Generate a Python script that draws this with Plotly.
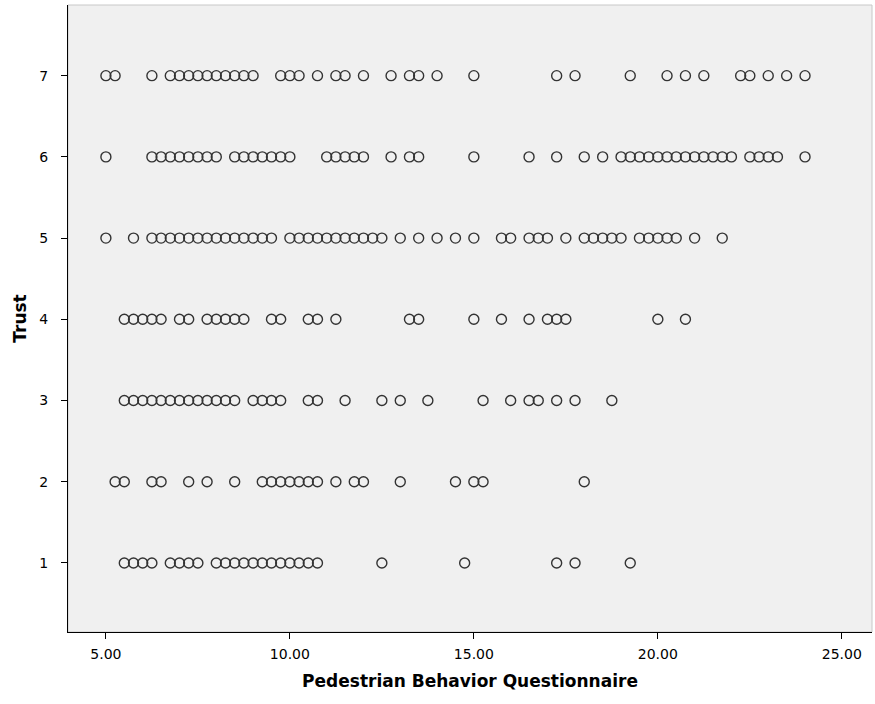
import plotly.graph_objects as go

# Pedestrian Behavior Questionnaire scores for each Trust level
pbq_trust7 = [5.0, 5.25, 6.25, 6.75, 7.0, 7.25, 7.5, 7.75, 8.0, 8.25, 8.5, 8.75, 9.0,
              9.75, 10.0, 10.25, 10.75, 11.25, 11.5, 12.0, 12.75, 13.25, 13.5, 14.0, 15.0,
              17.25, 17.75, 19.25, 20.25, 20.75, 21.25, 22.25, 22.5, 23.0, 23.5, 24.0]
pbq_trust6 = [5.0, 6.25, 6.5, 6.75, 7.0, 7.25, 7.5, 7.75, 8.0, 8.5, 8.75, 9.0, 9.25, 9.5,
              9.75, 10.0, 11.0, 11.25, 11.5, 11.75, 12.0, 12.75, 13.25, 13.5, 15.0,
              16.5, 17.25, 18.0, 18.5, 19.0, 19.25, 19.5, 19.75, 20.0, 20.25, 20.5, 20.75,
              21.0, 21.25, 21.5, 21.75, 22.0, 22.5, 22.75, 23.0, 23.25, 24.0]
pbq_trust5 = [5.0, 5.75, 6.25, 6.5, 6.75, 7.0, 7.25, 7.5, 7.75, 8.0, 8.25, 8.5, 8.75, 9.0,
              9.25, 9.5, 10.0, 10.25, 10.5, 10.75, 11.0, 11.25, 11.5, 11.75, 12.0, 12.25,
              12.5, 13.0, 13.5, 14.0, 14.5, 15.0, 15.75, 16.0, 16.5, 16.75, 17.0, 17.5,
              18.0, 18.25, 18.5, 18.75, 19.0, 19.5, 19.75, 20.0, 20.25, 20.5, 21.0, 21.75]
pbq_trust4 = [5.5, 5.75, 6.0, 6.25, 6.5, 7.0, 7.25, 7.75, 8.0, 8.25, 8.5, 8.75, 9.5, 9.75,
              10.5, 10.75, 11.25, 13.25, 13.5, 15.0, 15.75, 16.5, 17.0, 17.25, 17.5,
              20.0, 20.75]
pbq_trust3 = [5.5, 5.75, 6.0, 6.25, 6.5, 6.75, 7.0, 7.25, 7.5, 7.75, 8.0, 8.25, 8.5,
              9.0, 9.25, 9.5, 9.75, 10.5, 10.75, 11.5, 12.5, 13.0, 13.75, 15.25,
              16.0, 16.5, 16.75, 17.25, 17.75, 18.75]
pbq_trust2 = [5.25, 5.5, 6.25, 6.5, 7.25, 7.75, 8.5, 9.25, 9.5, 9.75, 10.0, 10.25, 10.5,
              10.75, 11.25, 11.75, 12.0, 13.0, 14.5, 15.0, 15.25, 18.0]
pbq_trust1 = [5.5, 5.75, 6.0, 6.25, 6.75, 7.0, 7.25, 7.5, 8.0, 8.25, 8.5, 8.75, 9.0,
              9.25, 9.5, 9.75, 10.0, 10.25, 10.5, 10.75, 12.5, 14.75, 17.25, 17.75, 19.25]

trust_levels = [7, 6, 5, 4, 3, 2, 1]
pbq_by_trust = [pbq_trust7, pbq_trust6, pbq_trust5, pbq_trust4, pbq_trust3,
                pbq_trust2, pbq_trust1]

x_ticks = [5, 10, 15, 20, 25]
x_tick_labels = ["5.00", "10.00", "15.00", "20.00", "25.00"]
y_ticks = [1, 2, 3, 4, 5, 6, 7]

xs, ys = [], []
for t, vals in zip(trust_levels, pbq_by_trust):
    xs.extend(vals)
    ys.extend([t] * len(vals))

fig = go.Figure(go.Scatter(
    x=xs, y=ys, mode="markers",
    marker=dict(symbol="circle-open", size=10, color="#333333",
                line=dict(width=1.4, color="#333333")),
    hoverinfo="x+y", showlegend=False,
))

fig.update_layout(
    width=875, height=704,
    margin=dict(l=68, r=3, t=5, b=72),
    paper_bgcolor="white",
    plot_bgcolor="#f0f0f0",
    font=dict(family="DejaVu Sans, Verdana, sans-serif", size=12, color="black"),
)
fig.update_xaxes(
    range=[3.97, 25.82], tickvals=x_ticks, ticktext=x_tick_labels,
    showgrid=False, zeroline=False, showline=True, linecolor="black", linewidth=1,
    ticks="outside", ticklen=6, tickcolor="black", mirror=False,
    tickfont=dict(size=14), ticklabelstandoff=3,
    title=dict(text="<b>Pedestrian Behavior Questionnaire</b>",
               font=dict(size=17), standoff=14),
)
fig.update_yaxes(
    range=[0.15, 7.87], tickvals=y_ticks,
    showgrid=False, zeroline=False, showline=True, linecolor="black", linewidth=1,
    ticks="outside", ticklen=6, tickcolor="black",
    tickfont=dict(size=14), ticklabelstandoff=10,
    title=dict(text="<b>Trust</b>", font=dict(size=17), standoff=8),
)
fig.add_shape(type="rect", xref="paper", yref="paper", x0=0, y0=0, x1=1, y1=1,
              line=dict(color="#c8c8c8", width=1), layer="below")

fig.write_html("out.html")
